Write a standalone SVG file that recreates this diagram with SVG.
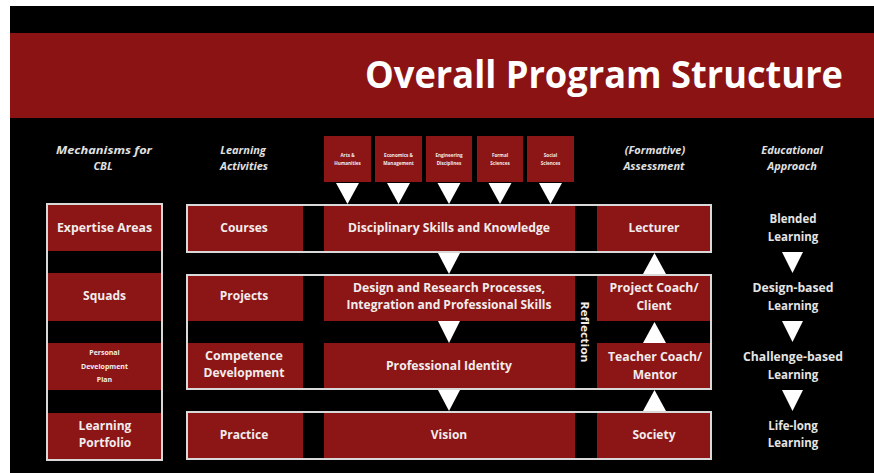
<svg xmlns="http://www.w3.org/2000/svg" width="874" height="473" viewBox="0 0 874 473">
<defs>
<style>
.red{fill:#8c1515}
.frame{fill:none;stroke:#d9d9d9;stroke-width:2}
.t{font-family:"Open Sans","Liberation Sans",sans-serif;font-weight:bold;fill:#f1ecec;text-anchor:middle}
.n{font-size:12px}
.s{font-size:8px}
.xs{font-size:4.6px}
.h{font-family:"Open Sans","Liberation Sans",sans-serif;font-weight:bold;font-style:italic;font-size:11px;fill:#e0e0e0;text-anchor:middle}
.ap{font-family:"Open Sans","Liberation Sans",sans-serif;font-weight:bold;font-size:11.5px;fill:#e4e4e4;text-anchor:middle}
.tri{fill:#ffffff}
</style>
</defs>
<rect x="0" y="0" width="874" height="473" fill="#ffffff"/>
<rect x="10" y="6" width="864" height="467" fill="#000000"/>
<g id="banner">
<rect x="10" y="33" width="864" height="85" fill="#8b1313"/>
<text x="604" y="88" class="t" style="font-size:37px;fill:#ffffff" textLength="478" lengthAdjust="spacingAndGlyphs">Overall Program Structure</text>
</g>
<g id="headers">
<text x="104" y="154" class="h" textLength="96" lengthAdjust="spacingAndGlyphs">Mechanisms for</text>
<text x="103" y="170" class="h">CBL</text>
<text x="243" y="154" class="h">Learning</text>
<text x="244" y="170" class="h">Activities</text>
<text x="655" y="154" class="h">(Formative)</text>
<text x="654" y="170" class="h">Assessment</text>
<text x="792" y="154" class="h">Educational</text>
<text x="792" y="170" class="h">Approach</text>
</g>
<g id="disciplines">
<g id="arts"><rect x="324" y="136" width="47" height="46" class="red"/><text x="347.5" y="157" class="t xs">Arts &amp;</text><text x="347.5" y="165" class="t xs">Humanities</text></g>
<g id="economics"><rect x="375" y="136" width="47" height="46" class="red"/><text x="398.5" y="157" class="t xs">Economics &amp;</text><text x="398.5" y="165" class="t xs">Management</text></g>
<g id="engineering"><rect x="426" y="136" width="46" height="46" class="red"/><text x="449" y="157" class="t xs">Engineering</text><text x="449" y="165" class="t xs">Disciplines</text></g>
<g id="formal"><rect x="477" y="136" width="46" height="46" class="red"/><text x="500" y="157" class="t xs">Formal</text><text x="500" y="165" class="t xs">Sciences</text></g>
<g id="social"><rect x="527" y="136" width="47" height="46" class="red"/><text x="550.5" y="157" class="t xs">Social</text><text x="550.5" y="165" class="t xs">Sciences</text></g>
</g>
<g id="mechanisms">
<g id="expertise"><rect x="47" y="204" width="115" height="47" class="red"/><text x="104.5" y="232" class="t n" textLength="95" lengthAdjust="spacingAndGlyphs">Expertise Areas</text></g>
<g id="squads"><rect x="47" y="273" width="115" height="48" class="red"/><text x="104.5" y="300" class="t n">Squads</text></g>
<g id="pdp"><rect x="47" y="343" width="115" height="47" class="red"/><text x="104.5" y="355" class="t" style="font-size:7px">Personal</text><text x="104.5" y="368.5" class="t" style="font-size:7px">Development</text><text x="104.5" y="382" class="t" style="font-size:7px">Plan</text></g>
<g id="portfolio"><rect x="47" y="413" width="115" height="46" class="red"/><text x="105" y="430" class="t n">Learning</text><text x="105" y="447" class="t n">Portfolio</text></g>
<rect x="47" y="204" width="115" height="256" class="frame"/>
</g>
<g id="row-courses">
<g id="courses"><rect x="187" y="205" width="116" height="47" class="red"/><text x="244" y="232" class="t n">Courses</text></g>
<g id="disciplinary"><rect x="324" y="205" width="251" height="47" class="red"/><text x="449" y="232" class="t n" textLength="202" lengthAdjust="spacingAndGlyphs">Disciplinary Skills and Knowledge</text></g>
<g id="lecturer"><rect x="597" y="205" width="114" height="47" class="red"/><text x="654" y="232" class="t n">Lecturer</text></g>
<rect x="187" y="205" width="524" height="47" class="frame"/>
</g>
<g id="row-projects">
<g id="projects"><rect x="187" y="275" width="116" height="46" class="red"/><text x="244" y="300" class="t n">Projects</text></g>
<g id="design"><rect x="324" y="275" width="251" height="46" class="red"/><text x="449" y="292" class="t n" textLength="192" lengthAdjust="spacingAndGlyphs">Design and Research Processes,</text><text x="449" y="309" class="t n" textLength="205" lengthAdjust="spacingAndGlyphs">Integration and Professional Skills</text></g>
<g id="project-coach"><rect x="597" y="275" width="114" height="46" class="red"/><text x="654" y="292" class="t n" textLength="89" lengthAdjust="spacingAndGlyphs">Project Coach/</text><text x="654" y="310" class="t n">Client</text></g>
<g id="competence"><rect x="187" y="343" width="116" height="46" class="red"/><text x="244" y="360" class="t n" textLength="78" lengthAdjust="spacingAndGlyphs">Competence</text><text x="244" y="377" class="t n" textLength="81" lengthAdjust="spacingAndGlyphs">Development</text></g>
<g id="identity"><rect x="324" y="343" width="251" height="46" class="red"/><text x="449" y="370" class="t n" textLength="126" lengthAdjust="spacingAndGlyphs">Professional Identity</text></g>
<g id="teacher-coach"><rect x="597" y="343" width="114" height="46" class="red"/><text x="655" y="361" class="t n" textLength="94" lengthAdjust="spacingAndGlyphs">Teacher Coach/</text><text x="655" y="379" class="t n">Mentor</text></g>
<g id="reflection"><text x="0" y="0" class="t" style="font-size:11px" transform="translate(581,332) rotate(90)" textLength="61" lengthAdjust="spacingAndGlyphs">Reflection</text></g>
<rect x="187" y="275" width="524" height="114" class="frame"/>
</g>
<g id="row-practice">
<g id="practice"><rect x="187" y="412" width="116" height="47" class="red"/><text x="244" y="439" class="t n">Practice</text></g>
<g id="vision"><rect x="324" y="412" width="251" height="47" class="red"/><text x="449" y="439" class="t n">Vision</text></g>
<g id="society"><rect x="597" y="412" width="114" height="47" class="red"/><text x="654" y="439" class="t n">Society</text></g>
<rect x="187" y="412" width="524" height="47" class="frame"/>
</g>
<g id="approach">
<g id="blended"><text x="793" y="223" class="ap">Blended</text><text x="793" y="241" class="ap">Learning</text></g>
<g id="design-based"><text x="793" y="292" class="ap" textLength="81" lengthAdjust="spacingAndGlyphs">Design-based</text><text x="793" y="310" class="ap">Learning</text></g>
<g id="challenge-based"><text x="793" y="361" class="ap" textLength="100" lengthAdjust="spacingAndGlyphs">Challenge-based</text><text x="793" y="379" class="ap">Learning</text></g>
<g id="life-long"><text x="793" y="430" class="ap">Life-long</text><text x="793" y="447" class="ap">Learning</text></g>
</g>
<g id="connectors">
<polygon class="tri" points="336,183 359,183 347.5,204"/>
<polygon class="tri" points="387,183 410,183 398.5,204"/>
<polygon class="tri" points="437.5,183 460.5,183 449,204"/>
<polygon class="tri" points="488.5,183 511.5,183 500,204"/>
<polygon class="tri" points="539,183 562,183 550.5,204"/>
<polygon class="tri" points="438,253 460,253 449,274"/>
<polygon class="tri" points="438,321 460,321 449,343"/>
<polygon class="tri" points="438,390 460,390 449,411"/>
<polygon class="tri" points="643,274 666,274 654.5,253"/>
<polygon class="tri" points="643,343 666,343 654.5,322"/>
<polygon class="tri" points="643,411 666,411 654.5,390"/>
<polygon class="tri" points="782,252 803,252 792.5,273"/>
<polygon class="tri" points="782,321 803,321 792.5,342"/>
<polygon class="tri" points="782,390 803,390 792.5,411"/>
</g>
</svg>
